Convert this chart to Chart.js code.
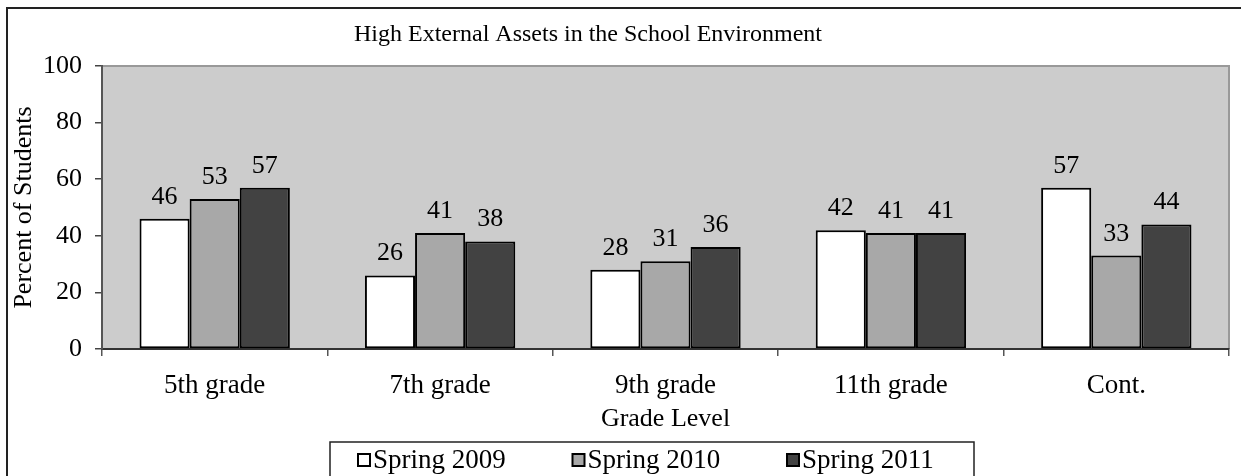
<!DOCTYPE html>
<html>
<head>
<meta charset="utf-8">
<script src="https://cdn.jsdelivr.net/npm/chart.js@4.4.1/dist/chart.umd.min.js"></script>
<style>
	html, body { margin: 0; padding: 0; background: #ffffff; }
	#wrap { position: relative; width: 1241px; height: 476px; }
</style>
</head>
<body>
<div id="wrap"><canvas id="chart"></canvas></div>
<script>
const grades = ["5th grade", "7th grade", "9th grade", "11th grade", "Cont."]
const spring2009 = [46, 26, 28, 42, 57]
const spring2010 = [53, 41, 31, 41, 33]
const spring2011 = [57, 38, 36, 41, 44]
const yTicks = [0, 20, 40, 60, 80, 100]

const serif = "'Liberation Serif', 'Times New Roman', serif"
const chartTitle = "High External Assets in the School Environment"

// background, frame, title, value labels and the boxed legend
const framePlugin = {
	id: "frame",
	beforeDraw(chart) {
		let ctx = chart.ctx
		let a = chart.chartArea
		ctx.save()
		ctx.fillStyle = "#cccccc"
		ctx.fillRect(a.left, a.top, a.right - a.left, a.bottom - a.top)
		ctx.strokeStyle = "#999999"
		ctx.lineWidth = 2
		ctx.beginPath()
		ctx.moveTo(a.left, a.top)
		ctx.lineTo(a.right, a.top)
		ctx.lineTo(a.right, a.bottom)
		ctx.stroke()
		// outer border (only left and top show in the crop)
		ctx.strokeStyle = "#222222"
		ctx.beginPath()
		ctx.moveTo(7, chart.height)
		ctx.lineTo(7, 8)
		ctx.lineTo(chart.width, 8)
		ctx.stroke()
		ctx.fillStyle = "#000000"
		ctx.font = "24px " + serif
		ctx.textAlign = "center"
		ctx.textBaseline = "alphabetic"
		ctx.fillText(chartTitle, 588, 41)
		ctx.restore()
	},
	afterDraw(chart) {
		let ctx = chart.ctx
		ctx.save()
		ctx.fillStyle = "#000000"
		ctx.font = "26px " + serif
		ctx.textAlign = "center"
		ctx.textBaseline = "alphabetic"
		chart.data.datasets.forEach((ds, j) => {
			let meta = chart.getDatasetMeta(j)
			meta.data.forEach((bar, i) => {
				ctx.fillText(ds.data[i], bar.x, bar.y - 15)
			})
		})
		// legend
		let left = 330, right = 974, top = 442
		ctx.strokeStyle = "#222222"
		ctx.lineWidth = 1.5
		ctx.strokeRect(left, top, right - left, 60)
		ctx.font = "27px " + serif
		ctx.textAlign = "left"
		ctx.textBaseline = "middle"
		chart.data.datasets.forEach((ds, j) => {
			let x = 358 + j * 214.5
			ctx.fillStyle = ds.backgroundColor
			ctx.fillRect(x, 454, 12, 12)
			ctx.strokeStyle = "#000000"
			ctx.lineWidth = 2
			ctx.strokeRect(x, 454, 12, 12)
			ctx.fillStyle = "#000000"
			ctx.fillText(ds.label, x + 15, 461)
		})
		ctx.restore()
	}
}

let chart = new Chart(document.getElementById("chart"), {
	type: "bar",
	data: {
		labels: grades,
		datasets: [{
			label: "Spring 2009",
			data: spring2009,
			backgroundColor: "#ffffff",
		}, {
			label: "Spring 2010",
			data: spring2010,
			backgroundColor: "#a8a8a8",
		}, {
			label: "Spring 2011",
			data: spring2011,
			backgroundColor: "#424242",
		}],
	},
	options: {
		animation: false,
		responsive: true,
		maintainAspectRatio: false,
		datasets: {
			bar: {
				borderColor: "#000000",
				borderWidth: 2,
				borderSkipped: false,
				categoryPercentage: 0.667,
				barPercentage: 1,
			},
		},
		layout: {
			padding: { left: 8, right: 12, top: 66, bottom: 34 },
		},
		scales: {
			x: {
				grid: {
					display: true,
					drawOnChartArea: false,
					tickLength: 7,
					color: "#555555",
					lineWidth: 1.5,
				},
				border: { color: "#333333", width: 2 },
				ticks: {
					color: "#000000",
					padding: 14,
					maxRotation: 0,
					font: { family: serif, size: 27 },
				},
				title: {
					display: true,
					text: "Grade Level",
					color: "#000000",
					padding: { top: 0, bottom: 7 },
					font: { family: serif, size: 26 },
				},
				afterFit(scale) {
					scale.height = 93
				},
			},
			y: {
				min: 0,
				max: 100,
				afterBuildTicks(scale) {
					scale.ticks = yTicks.map(v => ({ value: v }))
				},
				grid: {
					display: true,
					drawOnChartArea: false,
					tickLength: 7,
					color: "#444444",
					lineWidth: 1.5,
				},
				border: { color: "#555555", width: 2 },
				ticks: {
					color: "#000000",
					padding: 13,
					font: { family: serif, size: 26 },
				},
				title: {
					display: true,
					text: "Percent of Students",
					color: "#000000",
					padding: { top: 1, bottom: 0 },
					font: { family: serif, size: 26 },
				},
				afterFit(scale) {
					scale.width = 94
				},
			},
		},
		plugins: {
			title: { display: false },
			tooltip: { enabled: false },
			legend: { display: false },
		},
	},
	plugins: [framePlugin],
});
</script>
</body>
</html>
